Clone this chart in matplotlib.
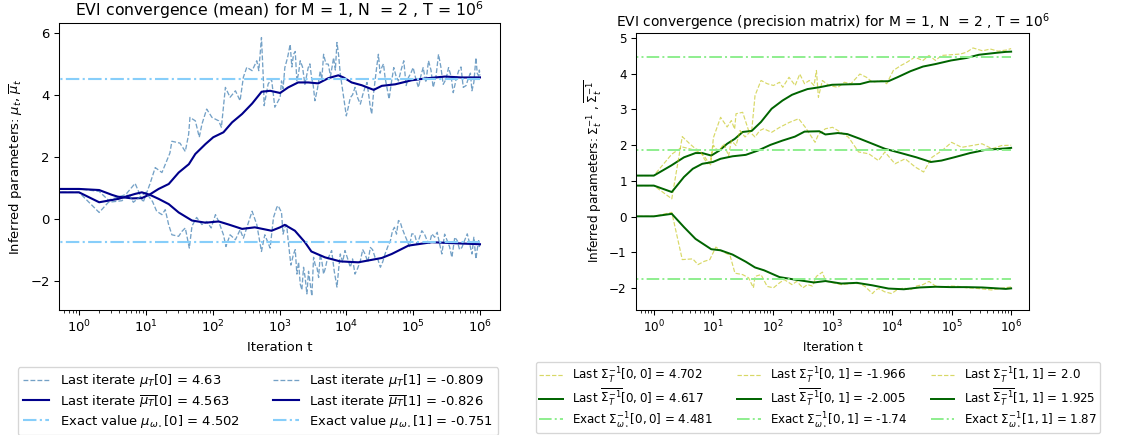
import matplotlib
matplotlib.use("Agg")
import matplotlib.pyplot as plt

# ---------------- data: mean (left panel) ----------------
t_last_mu0 = [0, 1, 2, 2.75, 3.9, 5, 6.9, 9.1, 11.5, 13.8, 17.4, 22.9, 24.5, 32.4, 38.9, 43.7, 45.7, 55, 63, 69,
              81.3, 97.7, 123, 135, 155, 182, 219, 257, 288, 324, 389, 457, 490, 537, 575, 589, 676, 760, 851,
              1023, 1072, 1202, 1445, 1622, 1820, 2042, 2399, 2692, 3020, 3388, 4074, 4571, 5370, 6457, 7244,
              8128, 9120, 10000, 11482, 13490, 16218, 19055, 21878, 23988, 26915, 30200, 33884, 38019, 43652,
              51286, 60256, 72444, 85114, 100000, 120226, 141254, 169824, 199526, 239883, 281838, 338844,
              398107, 478630, 562341, 676083, 758578, 870964, 954993, 1000000]
last_mu0 = [0.96, 0.96, 0.88, 0.6, 0.7, 0.78, 1.14, 0.53, 1.12, 1.65, 1.49, 2.12, 2.5, 2.44, 2.17, 2.73, 3.27, 3.16,
            2.63, 3.05, 3.54, 3.27, 3.16, 2.95, 4.24, 3.92, 4.13, 3.81, 4.57, 4.89, 4.78, 5.1, 4.78, 5.85, 4.45,
            3.65, 4.35, 4.51, 3.6, 3.92, 4.45, 4.88, 5.63, 5.31, 4.45, 5.1, 4.34, 4.88, 4.56, 3.81, 4.77, 5.31,
            4.99, 5.2, 5.69, 4.67, 3.91, 3.32, 3.91, 4.24, 3.70, 4.24, 3.91, 3.38, 4.45, 5.31, 4.88, 4.56, 3.86,
            4.88, 4.45, 5.1, 4.56, 4.88, 4.24, 4.88, 5.1, 4.24, 5.31, 4.34, 4.88, 4.07, 4.77, 4.24, 4.56, 4.13,
            5.2, 4.61, 4.63]
# extra readings of the dense noisy stretch (t > 10^3)
t_last_mu0_b = [1130, 1320, 1530, 1720, 1930, 2210, 2540, 2850, 3200, 3700, 4300, 4950, 5800, 6850, 7650, 8600,
                9550, 10700, 12400, 14800, 17600, 20400, 22900, 25400, 28500, 32000, 36000, 40800, 47300, 55600,
                66000, 78500, 92400, 110000, 130000, 155000, 185000, 220000, 260000, 310000, 370000, 440000,
                520000, 620000, 720000, 810000, 910000, 980000]
last_mu0_b = [4.2, 5.2, 4.9, 5.4, 4.7, 4.9, 4.6, 5.0, 4.3, 4.2, 4.5, 5.0, 4.6, 4.8, 5.3, 4.3, 3.6, 3.6, 4.0, 3.9,
              4.0, 4.4, 3.6, 4.0, 4.9, 4.7, 5.0, 4.2, 4.4, 4.6, 4.8, 4.3, 4.7, 4.5, 4.6, 4.4, 4.8, 4.6, 4.9, 4.5,
              4.6, 4.5, 4.9, 4.3, 4.7, 4.4, 4.7, 4.8]

t_avg_mu0 = [0, 1, 2, 3.1, 3.8, 6.2, 8.7, 11.5, 15.5, 22, 31, 44, 55, 78, 102, 145, 195, 275, 390, 540, 725,
             1020, 1350, 1900, 2700, 3800, 5400, 7600, 9100, 12000, 17000, 25700, 34000, 54000, 95000,
             170000, 300000, 540000, 1000000]
avg_mu0 = [0.96, 0.96, 0.925, 0.77, 0.71, 0.655, 0.665, 0.785, 0.96, 1.12, 1.49, 1.76, 2.09, 2.41, 2.63, 2.79,
           3.11, 3.38, 3.72, 4.10, 4.13, 4.06, 4.24, 4.40, 4.40, 4.37, 4.54, 4.63, 4.56, 4.40, 4.31, 4.16, 4.29,
           4.34, 4.47, 4.54, 4.59, 4.56, 4.563]

t_last_mu1 = [0, 1, 2, 2.75, 4.4, 5.5, 6.5, 8.7, 10, 12.6, 14.5, 17.4, 19.5, 21.9, 24.5, 30.9, 34.7, 38.9, 44.7,
              49, 57.5, 69, 81.3, 95, 110, 123, 145, 158, 182, 219, 257, 288, 347, 389, 457, 537, 603, 724, 813,
              912, 955, 1072, 1202, 1349, 1622, 1820, 2042, 2291, 2570, 2884, 3236, 3631, 4074, 4571, 5129,
              6026, 7244, 8128, 9550, 11482, 13490, 16218, 19055, 22909, 26915, 32359, 38019, 45709, 52481,
              60256, 67608, 81283, 95499, 114815, 134896, 162181, 190546, 229087, 269153, 323594, 380189,
              457088, 537032, 645654, 758578, 870964, 954993, 1000000]
last_mu1 = [0.85, 0.85, 0.2, 0.53, 0.58, 0.80, 0.53, 0.75, 0.85, 0.55, 0.24, 0.13, 0.29, -0.19, -0.52, -0.57,
            -0.41, -0.30, -0.95, -0.24, 0.04, -0.19, -0.09, -0.3, 0.13, -0.09, -0.52, -0.9, -0.52, -0.68, -0.36,
            -0.63, -0.09, 0.24, -0.19, -1.06, -0.52, -0.95, 0.04, 0.37, 0.42, 0.2, -0.28, -0.71, -1.14, -1.79,
            -2.11, -1.57, -2.43, -2.11, -1.25, -1.57, -1.14, -1.79, -1.36, -1.03, -2.21, -1.14, -1.03, -1.57,
            -1.79, -1.36, -1.14, -0.93, -1.25, -1.57, -1.14, -0.71, -0.28, -0.06, -0.28, -0.71, -0.49, -0.82,
            -0.39, -0.71, -0.49, -0.44, -1.14, -0.71, -1.25, -0.71, -0.93, -0.49, -1.14, -1.30, -0.71, -0.809]
t_last_mu1_b = [1130, 1280, 1480, 1720, 1930, 2160, 2420, 2720, 3050, 3430, 3850, 4320, 4850, 5550, 6600, 7700,
                8800, 10500, 12400, 14800, 17600, 21000, 24700, 29500, 35000, 41800, 49000, 56400, 64000, 74000,
                88000, 105000, 125000, 148000, 176000, 210000, 248000, 296000, 350000, 420000, 495000, 590000,
                700000, 810000, 910000, 980000]
last_mu1_b = [-0.5, -0.2, -1.5, -1.0, -1.4, -2.3, -1.9, -1.7, -2.5, -1.5, -1.9, -1.4, -1.6, -1.2, -1.7, -1.6,
              -1.4, -1.3, -1.3, -1.6, -1.0, -1.4, -1.0, -1.3, -1.4, -0.9, -0.4, -0.5, -0.1, -0.5, -0.9, -0.5,
              -0.6, -0.5, -0.8, -0.6, -0.8, -0.5, -0.9, -0.6, -1.0, -0.7, -0.8, -0.6, -1.0, -0.9]

t_avg_mu1 = [0, 1, 2, 3.9, 6.9, 8.7, 11.5, 15.5, 22, 31, 49, 78, 123, 174, 275, 427, 760, 1020, 1200, 1700,
             2400, 3000, 4800, 8100, 15100, 33900, 47900, 85100, 190500, 380000, 1000000]
avg_mu1 = [0.85, 0.85, 0.53, 0.64, 0.80, 0.85, 0.77, 0.64, 0.47, 0.20, -0.06, -0.13, -0.09, -0.19, -0.33, -0.28,
           -0.39, -0.28, -0.20, -0.39, -0.76, -1.06, -1.25, -1.38, -1.41, -1.27, -1.14, -0.87, -0.76, -0.79,
           -0.826]

t_exact = [0, 1000000]
exact_mu = [4.502, -0.751]

mu_last_final = [4.63, -0.809]
mu_avg_final = [4.563, -0.826]

# ---------------- data: precision matrix (right panel) ----------------
t_last_00 = [0, 1, 2, 3, 4, 5, 6, 7, 8, 9, 10, 13.2, 17, 20, 22.7, 24, 31, 39, 44, 50, 63, 80, 102, 129, 146, 186,
             236, 282, 339, 407, 490, 537, 580, 676, 870, 1230, 1580, 2040, 2880, 3720, 4700, 6760, 8130, 10500,
             14100, 17800, 24000, 33100, 41700, 53700, 67600, 97700, 141000, 178000, 229000, 331000, 447000,
             603000, 813000, 1000000]
last_00 = [1.15, 1.15, 1.75, 1.95, 1.9, 1.85, 1.8, 1.7, 1.55, 1.45, 2.21, 2.78, 2.51, 2.69, 2.45, 2.88, 2.92, 2.41,
           2.41, 3.39, 3.81, 3.72, 3.67, 3.76, 3.62, 3.9, 3.67, 3.99, 3.72, 3.81, 3.67, 4.09, 3.34, 3.81, 3.67,
           3.62, 3.76, 3.72, 3.99, 3.90, 3.76, 3.81, 3.72, 4.09, 4.23, 4.32, 4.46, 4.37, 4.51, 4.37, 4.51, 4.53,
           4.55, 4.60, 4.72, 4.64, 4.69, 4.63, 4.66, 4.702]

t_avg_00 = [0, 1, 1.95, 3.2, 5, 6.5, 9.2, 12.6, 17, 23, 31, 44, 63, 95, 145, 209, 269, 380, 600, 980, 1600, 2900,
            4200, 8700, 12300, 20400, 33100, 53700, 97700, 178000, 288000, 537000, 813000, 1000000]
avg_00 = [1.15, 1.15, 1.43, 1.66, 1.78, 1.78, 1.71, 1.85, 2.04, 2.18, 2.37, 2.40, 2.65, 3.02, 3.25, 3.41, 3.48,
          3.57, 3.62, 3.69, 3.70, 3.71, 3.78, 3.79, 3.90, 4.07, 4.20, 4.27, 4.37, 4.44, 4.53, 4.58, 4.61, 4.617]

t_last_01 = [0, 1, 2, 3, 4.5, 5.5, 7, 8.7, 11, 13, 19, 23, 31, 39, 47, 50, 63, 80, 102, 129, 155, 209, 251, 318,
             380, 460, 537, 676, 766, 1400, 2030, 2890, 3500, 4700, 5300, 6000, 7500, 9800, 12000, 15800, 20000,
             25900, 33000, 41800, 53700, 70000, 97700, 130000, 178000, 240000, 329000, 468000, 600000, 759000,
             1000000]
last_01 = [0.01, 0.01, 0.12, -1.2, -1.18, -1.34, -1.25, -1.20, -0.85, -0.94, -1.08, -1.58, -1.62, -1.71, -1.99,
           -1.67, -1.62, -1.95, -1.99, -1.85, -1.76, -1.9, -1.81, -1.99, -1.9, -1.94, -1.67, -1.55, -1.8, -1.9,
           -1.87, -1.87, -1.95, -2.15, -2.05, -2.01, -2.1, -2.15, -2.05, -1.99, -2.05, -1.94, -1.9, -1.81, -1.94,
           -1.97, -1.94, -1.95, -1.99, -2.0, -2.02, -2.05, -2.02, -1.99, -1.966]

t_avg_01 = [0, 1, 2, 3.2, 5, 9.2, 13.2, 21, 35, 50, 71, 129, 234, 490, 760, 1410, 2570, 4680, 8710, 15800, 28800,
            53700, 97700, 178000, 331000, 813000, 1000000]
avg_01 = [0.01, 0.01, 0.08, -0.29, -0.62, -0.91, -0.94, -1.06, -1.26, -1.42, -1.50, -1.69, -1.76, -1.84, -1.80,
          -1.87, -1.85, -1.92, -2.01, -2.03, -1.98, -1.96, -1.97, -1.97, -1.98, -2.02, -2.005]

t_last_11 = [0, 1, 2, 3, 4, 5, 6, 7, 8, 9, 10, 11, 12.6, 15, 18, 20, 24, 28, 34, 41, 50, 60, 70, 95, 130, 190,
             270, 350, 510, 580, 760, 1000, 1260, 1860, 2750, 4070, 5900, 7590, 11200, 16600, 24500, 33900,
             46800, 69200, 100000, 148000, 219000, 324000, 479000, 692000, 1000000]
last_11 = [0.87, 0.87, 0.5, 2.24, 2.04, 1.9, 1.85, 1.62, 1.48, 1.6, 2.0, 1.9, 1.85, 2.04, 1.70, 2.13, 1.99, 2.41,
           2.23, 2.37, 2.23, 2.41, 2.46, 2.36, 2.50, 2.64, 2.74, 2.50, 2.08, 2.3, 2.46, 2.5, 2.4, 2.22, 1.81,
           1.76, 1.57, 1.81, 1.48, 1.62, 1.39, 1.25, 1.66, 1.85, 2.08, 1.94, 1.99, 2.04, 1.90, 1.99, 2.0]

t_avg_11 = [0, 1, 2, 3.2, 4.5, 6.5, 9.8, 13.2, 21, 35, 56, 91, 145, 234, 339, 600, 760, 1230, 1780, 2880, 4680,
            7590, 14100, 25700, 44700, 67600, 110000, 204000, 372000, 813000, 1000000]
avg_11 = [0.87, 0.87, 0.69, 1.11, 1.34, 1.48, 1.53, 1.62, 1.69, 1.73, 1.85, 2.01, 2.13, 2.24, 2.38, 2.39, 2.30,
          2.34, 2.31, 2.18, 2.04, 1.90, 1.78, 1.66, 1.53, 1.57, 1.66, 1.78, 1.87, 1.91, 1.925]

exact_prec = [4.481, -1.74, 1.87]
prec_last_final = [4.702, -1.966, 2.0]
prec_avg_final = [4.617, -2.005, 1.925]
prec_idx = ["0, 0", "0, 1", "1, 1"]

x_major_ticks = [1, 10, 100, 1000, 10000, 100000, 1000000]


def merged(ta, va, tb, vb):
    pairs = sorted(zip(list(ta) + list(tb), list(va) + list(vb)))
    return [p[0] for p in pairs], [p[1] for p in pairs]


# ---------------- figure ----------------
W, H = 1146, 435
DPI = 94.6
fig = plt.figure(figsize=(W / DPI, H / DPI), dpi=DPI)

ax1 = fig.add_axes([59 / W, 1 - 310 / H, 441 / W, 287 / H])
ax2 = fig.add_axes([636 / W, 1 - 310 / H, 393 / W, 276.7 / H])

c_last_mu, c_avg_mu, c_ex_mu = "steelblue", "darkblue", "lightskyblue"
c_last_p, c_avg_p, c_ex_p = "y", "darkgreen", "lightgreen"

mu_sets = [(merged(t_last_mu0, last_mu0, t_last_mu0_b, last_mu0_b), t_avg_mu0, avg_mu0),
           (merged(t_last_mu1, last_mu1, t_last_mu1_b, last_mu1_b), t_avg_mu1, avg_mu1)]
for i, ((tl, vl), ta, va) in enumerate(mu_sets):
    ax1.plot(tl, vl, "--", color=c_last_mu, alpha=0.75, lw=1.0,
             label=r"Last iterate $\mu_T[%d]$ = %s" % (i, mu_last_final[i]))
    ax1.plot(ta, va, "-", color=c_avg_mu, lw=1.6,
             label=r"Last iterate $\overline{\mu_T}[%d]$ = %s" % (i, mu_avg_final[i]))
    ax1.plot(t_exact, [exact_mu[i]] * len(t_exact), "-.", color=c_ex_mu, lw=1.6,
             label=r"Exact value $\mu_{\omega_\star}[%d]$ = %s" % (i, exact_mu[i]))

p_sets = [(t_last_00, last_00, t_avg_00, avg_00), (t_last_01, last_01, t_avg_01, avg_01),
          (t_last_11, last_11, t_avg_11, avg_11)]
for i, (tl, vl, ta, va) in enumerate(p_sets):
    ax2.plot(tl, vl, "--", color=c_last_p, alpha=0.6, lw=0.9,
             label=r"Last $\Sigma_T^{-1}[%s]$ = %s" % (prec_idx[i], prec_last_final[i]))
    ax2.plot(ta, va, "-", color=c_avg_p, lw=1.5,
             label=r"Last $\overline{\Sigma_T^{-1}}[%s]$ = %s" % (prec_idx[i], prec_avg_final[i]))
    ax2.plot(t_exact, [exact_prec[i]] * len(t_exact), "-.", color=c_ex_p, lw=1.5,
             label=r"Exact $\Sigma_{\omega_\star}^{-1}[%s]$ = %s" % (prec_idx[i], exact_prec[i]))

for ax in (ax1, ax2):
    ax.set_xscale("log")
    ax.set_xticks(x_major_ticks)
    ax.set_xlim(10 ** -0.3, 10 ** 6.3)

ax1.set_xlabel("Iteration t")
ax2.set_xlabel("Iteration t", fontsize=9.2)
ax2.tick_params(labelsize=9.2)

ax1.set_ylim(-2.95, 6.32)
ax2.set_ylim(-2.61, 5.13)

ax1.set_title(r"EVI convergence (mean) for M = 1, N  = 2 , T = $10^6$", pad=5)
ax2.set_title(r"EVI convergence (precision matrix) for M = 1, N  = 2 , T = $10^6$", pad=4.5, fontsize=10.6)
ax1.set_ylabel(r"Inferred parameters: $\mu_t$, $\overline{\mu}_t$")
ax2.set_ylabel(r"Inferred parameters: $\Sigma_t^{-1}$ , $\overline{\Sigma_t^{-1}}$", fontsize=9.2)

ax1.legend(loc="upper center", bbox_to_anchor=(258 / W, 1 - 367 / H), bbox_transform=fig.transFigure,
           ncol=2, labelspacing=0.3, columnspacing=2.5, borderaxespad=0)
ax2.legend(loc="upper center", bbox_to_anchor=(818 / W, 1 - 362 / H), bbox_transform=fig.transFigure,
           ncol=3, fontsize=9, labelspacing=0.12, borderpad=0.3, borderaxespad=0)

fig.savefig("out.png", dpi=DPI)
